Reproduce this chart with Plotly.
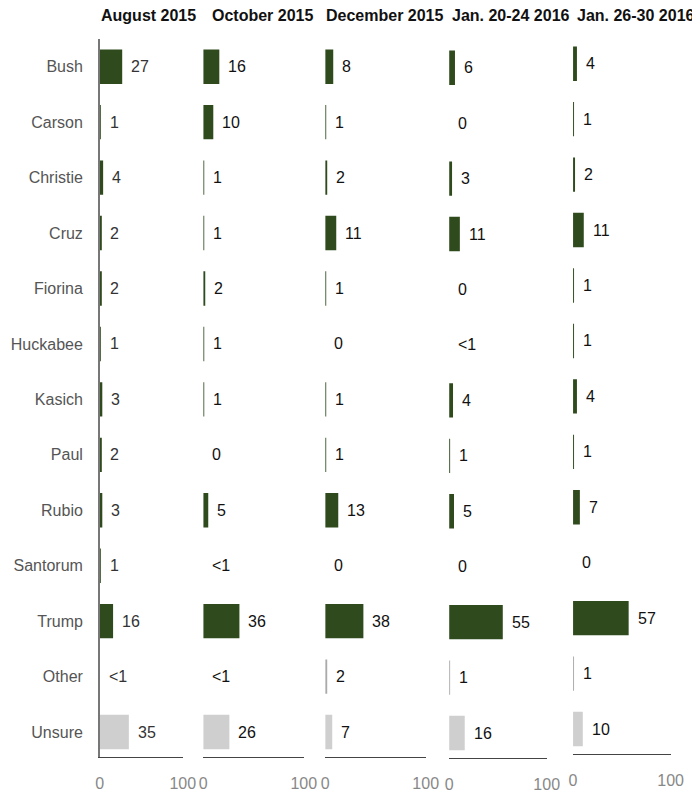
import plotly.graph_objects as go

W, H = 700, 792
OFF = 8  # page body margin: figure is drawn 8px right/down of the window corner

candidates = ["Bush", "Carson", "Christie", "Cruz", "Fiorina", "Huckabee", "Kasich",
              "Paul", "Rubio", "Santorum", "Trump", "Other", "Unsure"]

periods = ["August 2015", "October 2015", "December 2015", "Jan. 20-24 2016", "Jan. 26-30 2016"]

aug_2015 = ["27", "1", "4", "2", "2", "1", "3", "2", "3", "1", "16", "<1", "35"]
oct_2015 = ["16", "10", "1", "1", "2", "1", "1", "0", "5", "<1", "36", "<1", "26"]
dec_2015 = ["8", "1", "2", "11", "1", "0", "1", "1", "13", "0", "38", "2", "7"]
jan_20_24_2016 = ["6", "0", "3", "11", "0", "<1", "4", "1", "5", "0", "55", "1", "16"]
jan_26_30_2016 = ["4", "1", "2", "11", "1", "1", "4", "1", "7", "0", "57", "1", "10"]

x_tick_vals = [0, 100]
x_tick_text = ["0", "100"]

series = [aug_2015, oct_2015, dec_2015, jan_20_24_2016, jan_26_30_2016]


def to_num(s):
    return 0.0 if s.startswith("<") else float(s)


GREEN = "#2f4a1c"
OTHER_GRAY = "#aaaaaa"
UNSURE_GRAY = "#d0cfd0"


def color_for(cat):
    if cat == "Other":
        return OTHER_GRAY
    if cat == "Unsure":
        return UNSURE_GRAY
    return GREEN


# panel layout (window pixels)
x_domains_px = [(98, 183), (204, 307), (329, 432), (456, 556), (583, 683)]
y_domains_px = [(39, 757), (39, 757), (39, 757), (40, 758), (36, 754)]
title_x_px = [97, 211, 328, 457, 585]
title_y_px = 16
label_colors = ["#333333", "#111111", "#111111", "#111111", "#111111"]


def px_x(p):
    return (p - OFF) / W


def px_y(p):
    return 1 - (p - OFF) / H


fig = go.Figure()
annotations = []
layout = {}

for i, (period, labels) in enumerate(zip(periods, series)):
    idx = "" if i == 0 else str(i + 1)
    xa, ya = "x" + idx, "y" + idx
    vals = [to_num(s) for s in labels]
    fig.add_trace(go.Bar(
        x=vals, y=candidates, orientation="h",
        marker=dict(color=[color_for(c) for c in candidates], line=dict(width=0)),
        width=0.62, xaxis=xa, yaxis=ya, showlegend=False, hoverinfo="skip",
    ))
    for c, v, s in zip(candidates, vals, labels):
        annotations.append(dict(
            x=v, y=c, xref=xa, yref=ya, text=s, showarrow=False,
            xanchor="left", yanchor="middle", xshift=7,
            font=dict(family="Liberation Sans, Arial", size=16, color=label_colors[i]),
        ))
    annotations.append(dict(
        x=px_x(title_x_px[i]), y=px_y(title_y_px), xref="paper", yref="paper",
        text="<b>" + period + "</b>", showarrow=False, xanchor="left", yanchor="middle",
        font=dict(family="Liberation Sans, Arial", size=16, color="#111111"),
    ))
    x0, x1 = x_domains_px[i]
    yt, yb = y_domains_px[i]
    layout["xaxis" + idx] = dict(
        domain=[px_x(x0), px_x(x1)], range=[0, 100], anchor=ya,
        showgrid=False, zeroline=False, showline=True, linecolor="#444444", linewidth=1.2,
        ticks="inside", ticklen=5, tickwidth=1.2, tickcolor="#444444",
        tickvals=x_tick_vals, ticktext=x_tick_text, ticklabelstandoff=12,
        tickfont=dict(family="Liberation Sans, Arial", size=16, color="#888888"),
    )
    layout["yaxis" + idx] = dict(
        domain=[px_y(yb), px_y(yt)], range=[12.45, -0.5], anchor=xa,
        type="category", categoryorder="array", categoryarray=candidates,
        showgrid=False, zeroline=False, ticks="",
        showline=(i == 0), linecolor="#777777", linewidth=1.5,
        showticklabels=(i == 0), ticklabelstandoff=12,
        tickfont=dict(family="Liberation Sans, Arial", size=16, color="#555555"),
    )

fig.update_layout(
    width=W, height=H, margin=dict(l=0, r=0, t=0, b=0),
    paper_bgcolor="white", plot_bgcolor="white",
    annotations=annotations, **layout,
)

fig.write_html("out.html")
